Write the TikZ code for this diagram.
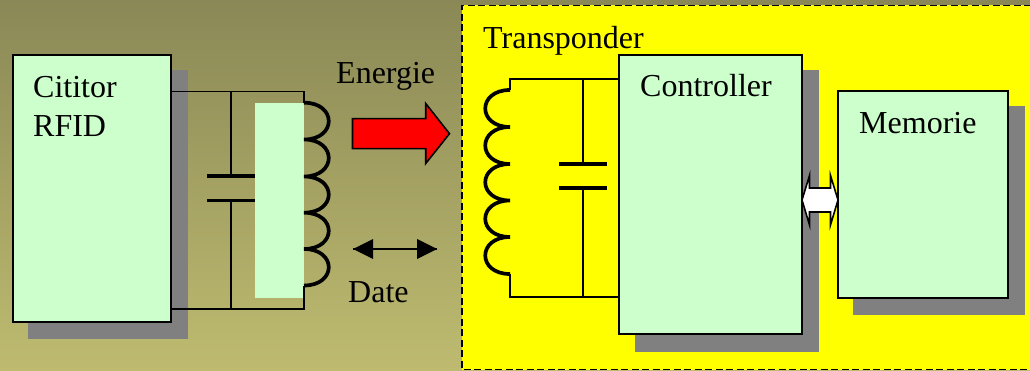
\documentclass[tikz,border=0pt]{standalone}
\usepackage{fontspec}
\setmainfont{Liberation Serif}
\definecolor{boxgreen}{RGB}{204,255,204}
\definecolor{shadowgray}{RGB}{128,128,128}
\definecolor{bgtop}{RGB}{138,136,86}
\definecolor{bgbottom}{RGB}{190,187,112}
\definecolor{pureyellow}{RGB}{255,255,0}
\definecolor{purered}{RGB}{255,0,0}
\tikzset{
  greenbox/.style={draw=black,line width=1.4pt,fill=boxgreen,anchor=north west,inner sep=0pt,outer sep=0pt},
  shadowbox/.style={fill=shadowgray,anchor=north west,inner sep=0pt,outer sep=0pt},
  lbl/.style={anchor=base west,inner sep=0pt,font=\fontsize{32}{36}\selectfont},
  wire/.style={draw=black,line width=1.4pt},
  plate/.style={draw=black,line width=3.2pt},
  coil/.style={draw=black,line width=3.7pt}
}
\begin{document}
\begin{tikzpicture}[x=1pt,y=-1pt]
\useasboundingbox (0,0) rectangle (1030,371);
% backgrounds
\shade[top color=bgtop,bottom color=bgbottom] (0,0) rectangle (1030,371);
\fill[pureyellow] (462,5.5) rectangle (1031,369.5);
\draw[black,line width=1.6pt,dash pattern=on 7pt off 3.5pt] (1031,5.5) -- (462,5.5) -- (462,369.5) -- (1031,369.5);
% shadows
\node[shadowbox,minimum width=160pt,minimum height=269pt] (readershadow) at (28,70) {};
\node[shadowbox,minimum width=184pt,minimum height=282pt] (ctrlshadow) at (635,70) {};
\node[shadowbox,minimum width=172pt,minimum height=209pt] (memshadow) at (853,106) {};
% boxes
\node[greenbox,minimum width=158pt,minimum height=267pt] (reader) at (13,55) {};
\node[greenbox,minimum width=183pt,minimum height=279pt] (ctrl) at (619,55) {};
\node[greenbox,minimum width=170pt,minimum height=207pt] (mem) at (838,91) {};
% green patch behind left coil
\fill[boxgreen] (255,103) rectangle (304,298);
% left tank circuit
\coordinate (lt) at (304,91.7);
\coordinate (lb) at (304,309);
\coordinate (l0) at (304,102.7);
\coordinate (l1) at (304,139.5);
\coordinate (l2) at (304,176.5);
\coordinate (l3) at (304,212.7);
\coordinate (l4) at (304,249);
\coordinate (l5) at (304,285.5);
\coordinate (lcapt) at (231,176);
\coordinate (lcapb) at (231,200.7);
\draw[wire] (reader.east |- lt) -- (lt) -- (l0);
\draw[wire] (reader.east |- lb) -- (lb) -- (l5);
\draw[wire] (lcapt) -- (lcapt |- lt);
\draw[wire] (lcapb) -- (lcapb |- lb);
\draw[plate] ([xshift=-24pt]lcapt) -- ([xshift=24pt]lcapt);
\draw[plate] ([xshift=-24pt]lcapb) -- ([xshift=24pt]lcapb);
\draw[coil] (l0)
  .. controls +(33,0) and +(33,0) .. (l1)
  .. controls +(33,0) and +(33,0) .. (l2)
  .. controls +(33,0) and +(33,0) .. (l3)
  .. controls +(33,0) and +(33,0) .. (l4)
  .. controls +(33,0) and +(33,0) .. (l5);
% right tank circuit
\coordinate (rt) at (510,79);
\coordinate (rb) at (510,297);
\coordinate (r0) at (510,90);
\coordinate (r1) at (510,127);
\coordinate (r2) at (510,164);
\coordinate (r3) at (510,200.5);
\coordinate (r4) at (510,237);
\coordinate (r5) at (510,274);
\coordinate (rcapt) at (583,164);
\coordinate (rcapb) at (583,188);
\draw[wire] (ctrl.west |- rt) -- (rt) -- (r0);
\draw[wire] (ctrl.west |- rb) -- (rb) -- (r5);
\draw[wire] (rcapt) -- (rcapt |- rt);
\draw[wire] (rcapb) -- (rcapb |- rb);
\draw[plate] ([xshift=-24pt]rcapt) -- ([xshift=24pt]rcapt);
\draw[plate] ([xshift=-24pt]rcapb) -- ([xshift=24pt]rcapb);
\draw[coil] (r0)
  .. controls +(-33,0) and +(-33,0) .. (r1)
  .. controls +(-33,0) and +(-33,0) .. (r2)
  .. controls +(-33,0) and +(-33,0) .. (r3)
  .. controls +(-33,0) and +(-33,0) .. (r4)
  .. controls +(-33,0) and +(-33,0) .. (r5);
% red energy arrow
\draw[draw=black,fill=purered,line width=1.6pt,line join=miter]
  (352.5,118.7) -- (425.7,118.7) -- (425.7,103.5) -- (449.5,133.7) -- (425.7,163.5) -- (425.7,148.7) -- (352.5,148.7) -- cycle;
% data double arrow
\coordinate (dl) at (353,249);
\coordinate (dr) at (437,249);
\draw[wire] (dl) -- (dr);
\fill[black] (dl) -- ++(20,-10) -- ++(0,20) -- cycle;
\fill[black] (dr) -- ++(-20,-10) -- ++(0,20) -- cycle;
% white bus arrow
\coordinate (busy) at (820,200);
\draw[draw=black,fill=white,line width=1.6pt,line join=miter]
  (ctrl.east |- busy) -- (809.5,175.5) -- (809.5,188) -- (830.5,188) -- (830.5,175.5) -- (mem.west |- busy) -- (830.5,225) -- (830.5,212) -- (809.5,212) -- (809.5,225) -- cycle;
% labels
\node[lbl] (t1) at (33,98) {Cititor};
\node[lbl] (t2) at (33,137) {RFID};
\node[lbl] (t3) at (336,84) {Energie};
\node[lbl] (t4) at (348,302) {Date};
\node[lbl] (t5) at (483,48.5) {Transponder};
\node[lbl] (t6) at (640,97) {Controller};
\node[lbl] (t7) at (859,133.5) {Memorie};
\end{tikzpicture}
\end{document}
